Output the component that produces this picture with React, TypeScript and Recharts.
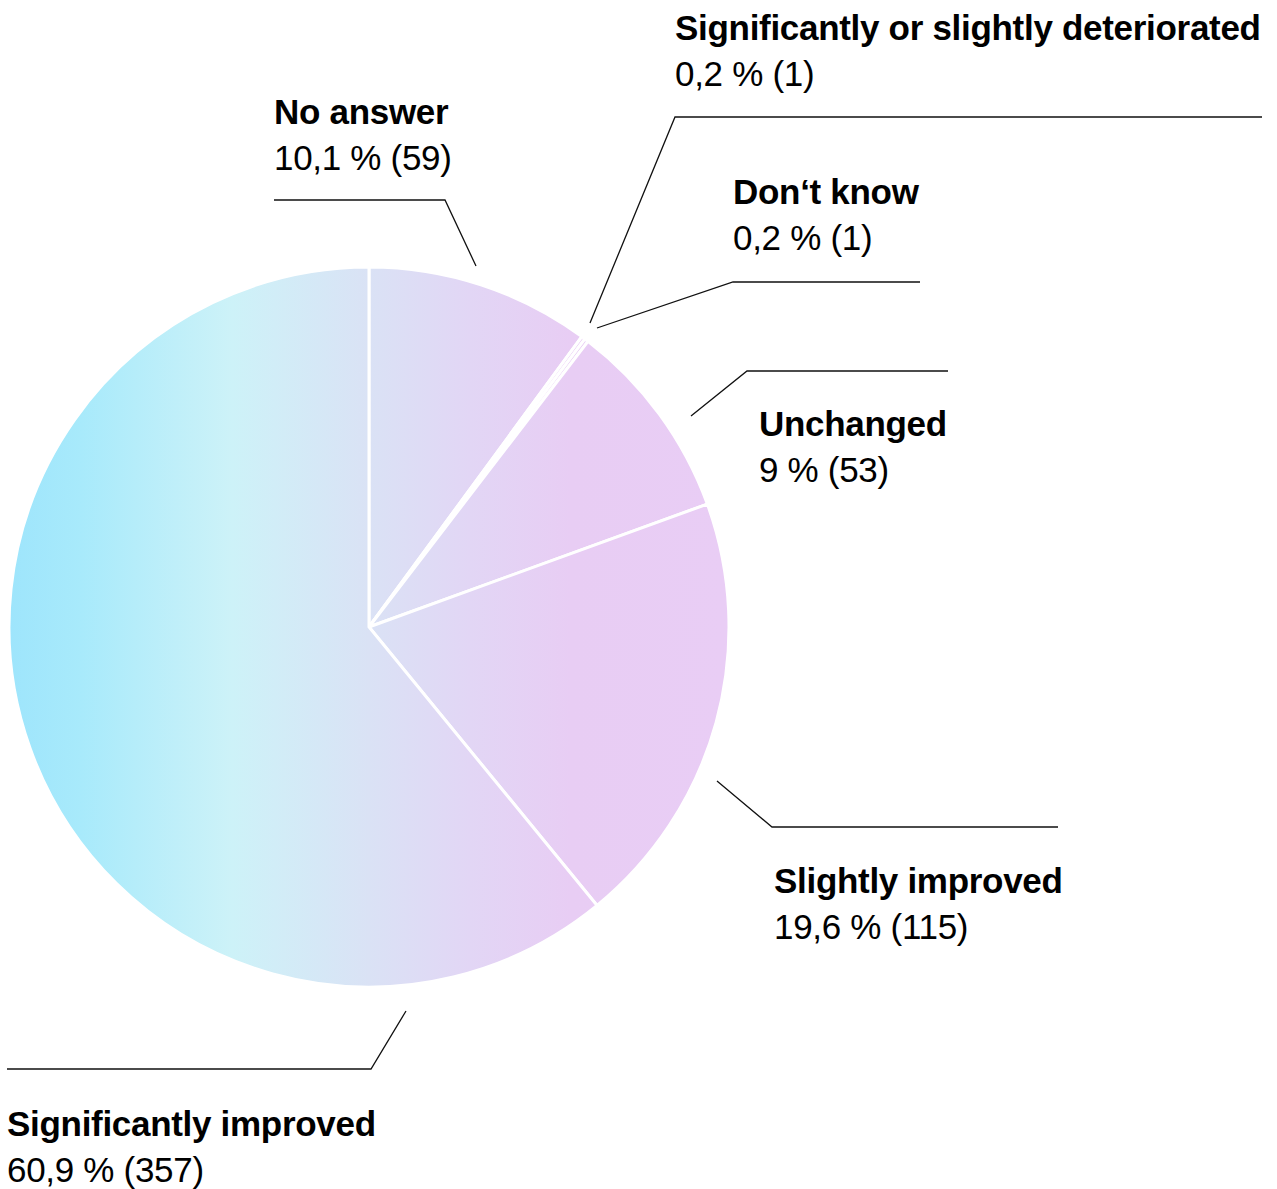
import React from 'react';
import { PieChart, Pie, Cell } from 'recharts';

const categories = [
  'No answer',
  'Significantly or slightly deteriorated',
  "Don\u2018t know",
  'Unchanged',
  'Slightly improved',
  'Significantly improved',
];
const counts = [59, 1, 1, 53, 115, 357];
const percentLabels = ['10,1 %', '0,2 %', '0,2 %', '9 %', '19,6 %', '60,9 %'];

const data = categories.map((name, i) => ({ name, value: counts[i], pct: percentLabels[i] }));

const CX = 369;
const CY = 627;
const R = 360;

// label leader layout, offsets relative to pie centre (style, not data)
const labelLayout = [
  { pts: [[107, -361], [76, -427], [-95, -427]], tx: -95, ty1: -503 },
  { pts: [[221, -304], [306, -510], [893, -510]], tx: 306, ty1: -587 },
  { pts: [[228, -299], [364, -345], [551, -345]], tx: 364, ty1: -423 },
  { pts: [[322, -211], [378, -256], [579, -256]], tx: 390, ty1: -191 },
  { pts: [[348, 154], [403, 200], [689, 200]], tx: 405, ty1: 266 },
  { pts: [[37, 384], [2, 442], [-362, 442]], tx: -362, ty1: 509 },
];

const FONT = '"Liberation Sans", Arial, Helvetica, sans-serif';

const renderLabel = (props: any) => {
  const { cx, cy, index } = props;
  const L = labelLayout[index];
  const d = data[index];
  const path = L.pts.map((p, i) => `${i === 0 ? 'M' : 'L'}${cx + p[0]},${cy + p[1]}`).join(' ');
  return (
    <g key={`lbl-${index}`}>
      <path d={path} fill="none" stroke="#111" strokeWidth={1.3} />
      <text x={cx + L.tx} y={cy + L.ty1} fontFamily={FONT} fontSize={35} fontWeight={700} fill="#000" letterSpacing={-0.3}>
        {d.name}
      </text>
      <text x={cx + L.tx} y={cy + L.ty1 + 46} fontFamily={FONT} fontSize={35} fontWeight={400} fill="#000" letterSpacing={-0.3}>
        {`${d.pct} (${d.value})`}
      </text>
    </g>
  );
};

export default function App() {
  return (
    <div style={{ position: 'absolute', left: 0, top: 0, width: 1277, height: 1189, background: '#fff' }}>
      <PieChart width={1277} height={1189} margin={{ top: 0, right: 0, bottom: 0, left: 0 }}>
        <defs>
          <linearGradient id="pieGrad" gradientUnits="userSpaceOnUse" x1={CX - R} y1={0} x2={CX + R} y2={0}>
            <stop offset="0%" stopColor="#9ee5fc" />
            <stop offset="10%" stopColor="#a8eafb" />
            <stop offset="31%" stopColor="#cdf2f8" />
            <stop offset="50%" stopColor="#dae2f5" />
            <stop offset="64%" stopColor="#e2d6f5" />
            <stop offset="78%" stopColor="#e8cdf4" />
            <stop offset="100%" stopColor="#e9cdf5" />
          </linearGradient>
        </defs>
        <Pie
          data={data}
          dataKey="value"
          nameKey="name"
          cx={CX}
          cy={CY}
          outerRadius={R}
          innerRadius={0}
          startAngle={90}
          endAngle={-270}
          stroke="#fff"
          strokeWidth={3}
          label={renderLabel}
          labelLine={false}
          isAnimationActive={false}
        >
          {data.map((d, i) => (
            <Cell key={i} fill="url(#pieGrad)" />
          ))}
        </Pie>
      </PieChart>
    </div>
  );
}
